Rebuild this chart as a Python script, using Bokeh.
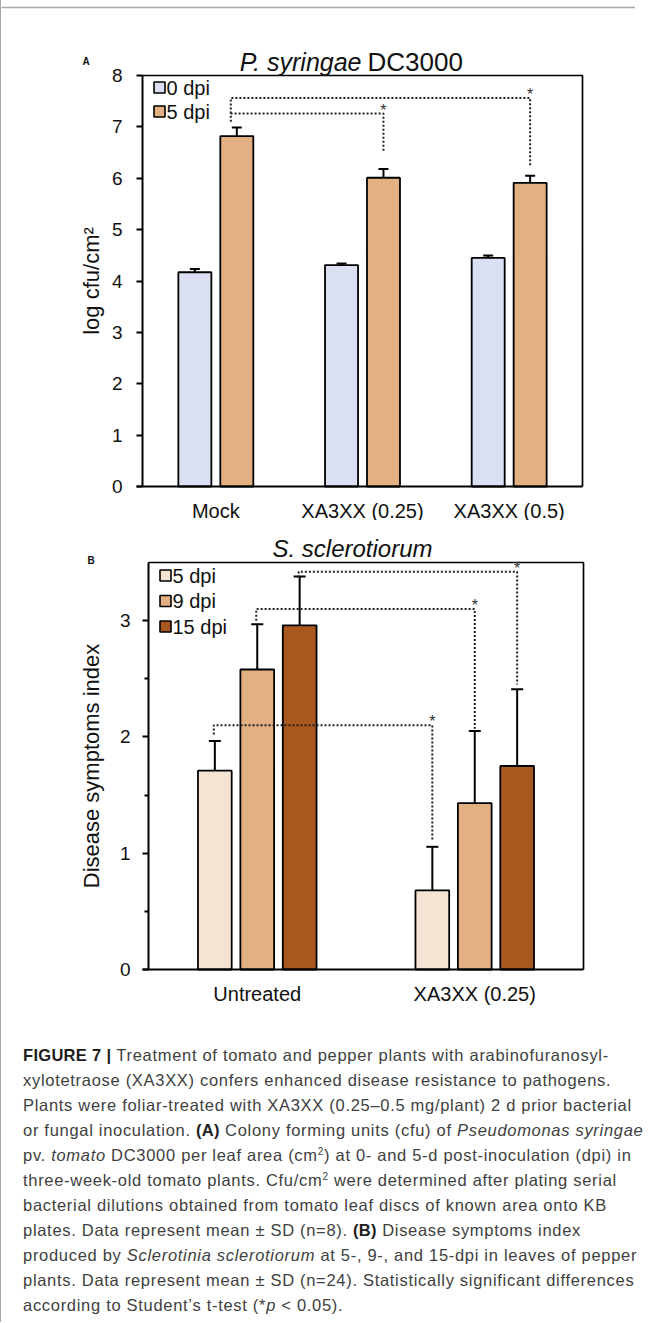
from bokeh.plotting import figure
from bokeh.models import (ColumnDataSource, Range1d, FixedTicker, Whisker, TeeHead, Div)
from bokeh.layouts import column
from bokeh.embed import file_html
from bokeh.resources import INLINE
from bokeh.core.properties import value

# ---------------- data ----------------
cats_a = ["Mock", "XA3XX (0.25)", "XA3XX (0.5)"]
series_a = ["0 dpi", "5 dpi"]
a_0dpi = [4.17, 4.31, 4.45]
a_0dpi_sd = [0.065, 0.03, 0.045]
a_5dpi = [6.82, 6.01, 5.91]
a_5dpi_sd = [0.17, 0.17, 0.14]
a_ticks = [0, 1, 2, 3, 4, 5, 6, 7, 8]
# significance brackets: (series, from category, to category, top, left end, right end)
brackets_a = [(1, 0, 1, 7.26, 7.10, 6.52), (1, 0, 2, 7.56, 7.26, 6.23)]

cats_b = ["Untreated", "XA3XX (0.25)"]
series_b = ["5 dpi", "9 dpi", "15 dpi"]
b_5dpi = [1.71, 0.68]
b_5dpi_sd = [0.255, 0.375]
b_9dpi = [2.58, 1.43]
b_9dpi_sd = [0.39, 0.62]
b_15dpi = [2.96, 1.75]
b_15dpi_sd = [0.42, 0.66]
b_ticks = [0, 1, 2, 3]
b_minor = [0.5, 1.5, 2.5]
brackets_b = [(0, 0, 1, 2.10, 2.02, 1.10), (1, 0, 1, 3.10, 3.00, 2.07), (2, 0, 1, 3.42, 3.37, 2.45)]

colors_a = ["#dae0f1", "#e3b083"]
colors_b = ["#f5e3d4", "#e3b083", "#a9581f"]

FONT = "Liberation Sans"
FIG_W = 634
SX, SY = 7, 7   # measured offset correction of the figure canvases


def build(cats, series, vals, sds, colors, brackets, ymax, ticks, minor, fig_h, box,
          bar_w, step, head, ylab, tick_standoff, ylab_standoff, leg_rows, left_shift):
    # box = plotting box inside the figure, in pixels: (left, right, top, bottom)
    bl, brr, bt, bb = box
    bl += SX
    brr += SX
    bt += SY
    bb += SY
    ncat = len(cats)
    ppx = (brr - bl) / ncat
    ppy = (bb - bt) / ymax

    def X(px):
        return (px + SX - bl) / ppx

    def Y(py):
        return (bb - py - SY) / ppy

    p = figure(width=FIG_W, height=fig_h, min_border=0,
               x_range=Range1d((0 - bl) / ppx, (FIG_W - bl) / ppx),
               y_range=Range1d((bb - fig_h) / ppy, bb / ppy),
               output_backend="svg", toolbar_location=None, tools="")
    p.xgrid.visible = False
    p.ygrid.visible = False
    p.outline_line_color = None
    p.background_fill_color = "white"
    p.border_fill_color = "white"

    n = len(series)
    offs = [(j - (n - 1) / 2) * step for j in range(n)]
    for j, s in enumerate(series):
        xs = [i + 0.5 + offs[j] for i in range(ncat)]
        src = ColumnDataSource(dict(x=xs, top=vals[j],
                                    up=[v + e for v, e in zip(vals[j], sds[j])],
                                    lo=[v - e for v, e in zip(vals[j], sds[j])]))
        p.vbar(x="x", top="top", bottom=0, width=bar_w, source=src,
               fill_color=colors[j], line_color="black", line_width=1.8)
        p.add_layout(Whisker(base="x", upper="up", lower="lo", source=src,
                             line_color="black", line_width=2,
                             upper_head=TeeHead(size=head, line_width=2, line_color="black"),
                             lower_head=TeeHead(size=head, line_width=2, line_color="black")))
        # legend entry
        ly = Y(box[2] + leg_rows[j])
        p.scatter(x=[X(box[0] + 17)], y=[ly], marker="square", size=11, fill_color=colors[j],
                  line_color="black", line_width=1.6)
        p.text(x=[X(box[0] + 24)], y=[ly], text=[s], text_baseline="middle", text_align="left",
               text_font=value(FONT), text_font_size="20px", text_color="#111")

    # box top and right edges
    p.line(x=[0, ncat, ncat], y=[ymax, ymax, 0], line_color="black", line_width=1.7)

    for (j, c0, c1, top, le, re) in brackets:
        xl = c0 + 0.5 + offs[j] + left_shift / ppx
        xr = c1 + 0.5 + offs[j]
        p.line(x=[xl, xl, xr, xr], y=[le, top, top, re], line_color="#222",
               line_width=2, line_dash="2 2")
        p.text(x=[xr], y=[top + 3.5 / ppy], text=["*"], text_align="center",
               text_baseline="middle", text_font=value(FONT), text_font_size="16px",
               text_color="#333")

    # axes, fixed at the data origin
    p.yaxis.fixed_location = 0
    p.yaxis.bounds = (0, ymax)
    p.yaxis.ticker = FixedTicker(ticks=ticks, minor_ticks=minor)
    p.yaxis.axis_line_width = 2
    p.yaxis.axis_line_color = "black"
    p.yaxis.major_tick_out = 6
    p.yaxis.major_tick_in = 0
    p.yaxis.major_tick_line_width = 2
    p.yaxis.minor_tick_out = 4
    p.yaxis.minor_tick_in = 0
    p.yaxis.minor_tick_line_width = 2
    p.yaxis.major_label_text_font = FONT
    p.yaxis.major_label_text_font_size = "19px"
    p.yaxis.major_label_text_color = "#111"
    p.yaxis.major_label_standoff = tick_standoff
    p.yaxis.axis_label = ylab
    p.yaxis.axis_label_text_font = FONT
    p.yaxis.axis_label_text_font_style = "normal"
    p.yaxis.axis_label_text_font_size = "22px"
    p.yaxis.axis_label_text_color = "#111"
    p.yaxis.axis_label_standoff = ylab_standoff

    p.xaxis.fixed_location = 0
    p.xaxis.bounds = (-6 / ppx, ncat)
    p.xaxis.ticker = FixedTicker(ticks=[i + 0.5 for i in range(ncat)])
    p.xaxis.major_label_overrides = {i + 0.5: c for i, c in enumerate(cats)}
    p.xaxis.axis_line_width = 2
    p.xaxis.axis_line_color = "black"
    p.xaxis.major_tick_line_color = None
    p.xaxis.major_tick_out = 0
    p.xaxis.major_tick_in = 0
    p.xaxis.minor_tick_line_color = None
    p.xaxis.major_label_text_font = FONT
    p.xaxis.major_label_text_font_size = "20px"
    p.xaxis.major_label_text_color = "#111"
    p.xaxis.major_label_standoff = 13
    return p, X, Y


def put_text(p, x, y, txt, size, style="normal", align="left", color="#111"):
    # y is the vertical middle of the text
    p.text(x=[x], y=[y], text=[txt], text_align=align, text_baseline="middle",
           text_font=value(FONT), text_font_style=style, text_font_size=size,
           text_color=color)


# ---------------- panel A ----------------
pA, XA, YA = build(cats_a, series_a, [a_0dpi, a_5dpi], [a_0dpi_sd, a_5dpi_sd], colors_a,
                   brackets_a, 8, a_ticks, [], 520, (134, 574, 68, 479),
                   0.225, 0.286, 10, "log cfu/cm\u00b2", 14, 5, [12, 36], -6)
put_text(pA, XA(353), YA(54.8), "P. syringae", "25px", "italic", "right")
put_text(pA, XA(359), YA(54.8), "DC3000", "26px")
put_text(pA, XA(74), YA(53.5), "A", "10px", "bold")
# page frame top edge
pA.line(x=[XA(-9), XA(FIG_W)], y=[YA(0), YA(0)], line_color="#a8a8a8", line_width=1.3)

# ---------------- panel B ----------------
pB, XB, YB = build(cats_b, series_b, [b_5dpi, b_9dpi, b_15dpi],
                   [b_5dpi_sd, b_9dpi_sd, b_15dpi_sd], colors_b,
                   brackets_b, 3.5, b_ticks, b_minor, 502, (140, 575, 35, 442),
                   0.155, 0.195, 12, "Disease symptoms index", 12, 13, [13, 38.5, 64], -1)
put_text(pB, XB(344), YB(21.2), "S. sclerotiorum", "24px", "italic", "center")
put_text(pB, XB(79), YB(32.5), "B", "10px", "bold")

# ---------------- caption ----------------
B_ = "<b style='color:#1e1e1e;letter-spacing:0.3px'>"
SUP = "<sup style='font-size:10px;line-height:0'>2</sup>"
caption_lines = [
    B_ + "FIGURE 7 |</b> Treatment of tomato and pepper plants with arabinofuranosyl-",
    "xylotetraose (XA3XX) confers enhanced disease resistance to pathogens.",
    "Plants were foliar-treated with XA3XX (0.25\u20130.5 mg/plant) 2 d prior bacterial",
    "or fungal inoculation. " + B_ + "(A)</b> Colony forming units (cfu) of <i>Pseudomonas syringae</i>",
    "pv. <i>tomato</i> DC3000 per leaf area (cm" + SUP + ") at 0- and 5-d post-inoculation (dpi) in",
    "three-week-old tomato plants. Cfu/cm" + SUP + " were determined after plating serial",
    "bacterial dilutions obtained from tomato leaf discs of known area onto KB",
    "plates. Data represent mean \u00b1 SD (n=8). " + B_ + "(B)</b> Disease symptoms index",
    "produced by <i>Sclerotinia sclerotiorum</i> at 5-, 9-, and 15-dpi in leaves of pepper",
    "plants. Data represent mean \u00b1 SD (n=24). Statistically significant differences",
    "according to Student\u2019s t-test (*<i>p</i> &lt; 0.05).",
]
caption_html = ("<div style=\"font-family:'Liberation Sans';font-size:16.5px;line-height:24.95px;"
                "letter-spacing:0.7px;color:#404040;white-space:nowrap;padding-left:17px;"
                "padding-top:16px;height:290px;box-sizing:border-box;overflow:hidden\">"
                + "<br>".join(caption_lines) + "</div>")
cap = Div(text=caption_html, width=FIG_W, height=290)

layout = column(pA, pB, cap, spacing=0,
                styles={"border-left": "1px solid #a8a8a8"})

open("out.html", "w").write(file_html(layout, INLINE))
